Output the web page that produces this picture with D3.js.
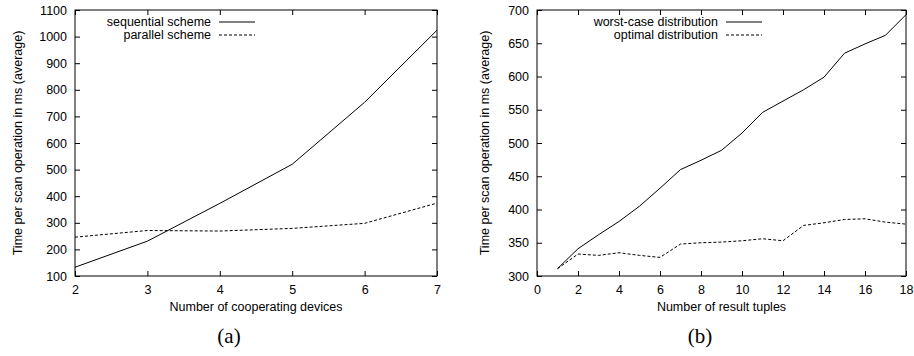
<!DOCTYPE html>
<html>
<head>
<meta charset="utf-8">
<script src="https://cdn.jsdelivr.net/npm/d3@7"></script>
<style>
  body { margin: 0; background: #fff; }
  svg text { font-family: "Liberation Sans", Arial, sans-serif; }
</style>
</head>
<body>
<div id="chart"></div>
<script>
// (a) cooperating devices
const devices = [2, 3, 4, 5, 6, 7];
const sequential = [133, 231, 373, 520, 753, 1024];
const parallel = [246, 271, 269, 279, 298, 374];

// (b) result tuples
const tuples = [1, 2, 3, 4, 5, 6, 7, 8, 9, 10, 11, 12, 13, 14, 15, 16, 17, 18];
const worstCase = [311, 341, 362, 382, 405, 432, 460, 474, 489, 515, 546, 563, 580, 599, 635, 649, 662, 693];
const optimal = [311, 333, 331, 335, 331, 328, 348, 350, 351, 353, 356, 353, 376, 380, 385, 386, 381, 378];

const svg = d3.select("#chart").append("svg")
  .attr("width", 914)
  .attr("height", 356);

function panel(opt) {
  const g = svg.append("g");
  const x = d3.scaleLinear().domain(opt.xDomain).range([opt.left, opt.right]);
  const y = d3.scaleLinear().domain(opt.yDomain).range([opt.bottom, opt.top]);
  const tl = 5;
  const fmt = d3.format("d");

  // inward ticks, mirrored like gnuplot
  g.append("g")
    .attr("transform", `translate(0,${opt.bottom})`)
    .call(d3.axisBottom(x).tickValues(opt.xTicks).tickFormat(fmt).tickSizeInner(-tl).tickSizeOuter(0).tickPadding(9))
    .call(a => a.select(".domain").remove());
  g.append("g")
    .attr("transform", `translate(0,${opt.top})`)
    .call(d3.axisTop(x).tickValues(opt.xTicks).tickSizeInner(-tl).tickSizeOuter(0).tickFormat(""))
    .call(a => a.select(".domain").remove());
  g.append("g")
    .attr("transform", `translate(${opt.left},0)`)
    .call(d3.axisLeft(y).tickValues(opt.yTicks).tickFormat(fmt).tickSizeInner(-tl).tickSizeOuter(0).tickPadding(8))
    .call(a => a.select(".domain").remove());
  g.append("g")
    .attr("transform", `translate(${opt.right},0)`)
    .call(d3.axisRight(y).tickValues(opt.yTicks).tickSizeInner(-tl).tickSizeOuter(0).tickFormat(""))
    .call(a => a.select(".domain").remove());

  g.selectAll(".tick text").attr("font-size", 12.5).attr("fill", "#000")
    .attr("font-family", "'Liberation Sans', Arial, sans-serif");
  g.selectAll(".tick line").attr("stroke", "#000");

  g.append("rect")
    .attr("x", opt.left).attr("y", opt.top)
    .attr("width", opt.right - opt.left).attr("height", opt.bottom - opt.top)
    .attr("fill", "none").attr("stroke", "#000").attr("stroke-width", 1);

  const line = d3.line().x(d => x(d[0])).y(d => y(d[1]));
  opt.series.forEach((s, i) => {
    g.append("path")
      .datum(opt.xs.map((v, j) => [v, s.values[j]]))
      .attr("d", line)
      .attr("fill", "none")
      .attr("stroke", "#000")
      .attr("stroke-width", 1)
      .attr("stroke-dasharray", s.dash);

    const ly = opt.top + 12 + i * 13;
    g.append("text")
      .attr("x", opt.legendX).attr("y", ly)
      .attr("dy", "0.35em")
      .attr("text-anchor", "end")
      .attr("font-size", 12.5)
      .text(s.name);
    g.append("line")
      .attr("x1", opt.legendX + 8).attr("x2", opt.legendX + 44)
      .attr("y1", ly).attr("y2", ly)
      .attr("stroke", "#000")
      .attr("stroke-dasharray", s.dash);
  });

  g.append("text")
    .attr("x", (opt.left + opt.right) / 2).attr("y", 311)
    .attr("text-anchor", "middle")
    .attr("font-size", 12.5)
    .text(opt.xLabel);

  g.append("text")
    .attr("transform", `translate(${opt.yLabelX},${(opt.top + opt.bottom) / 2}) rotate(-90)`)
    .attr("text-anchor", "middle")
    .attr("font-size", 12.5)
    .text("Time per scan operation in ms (average)");

  g.append("text")
    .attr("x", opt.captionX).attr("y", 343)
    .attr("text-anchor", "middle")
    .attr("font-size", 21)
    .style("font-family", "'Liberation Serif', 'Times New Roman', serif")
    .text(opt.caption);
}

panel({
  left: 75, right: 437, top: 10, bottom: 276,
  xDomain: [2, 7], yDomain: [100, 1100],
  xTicks: devices, yTicks: d3.range(100, 1101, 100),
  xs: devices,
  series: [
    { name: "sequential scheme", values: sequential, dash: null },
    { name: "parallel scheme", values: parallel, dash: "3,2" }
  ],
  legendX: 211,
  xLabel: "Number of cooperating devices",
  yLabelX: 22,
  caption: "(a)", captionX: 229
});

panel({
  left: 537, right: 906, top: 10, bottom: 276,
  xDomain: [0, 18], yDomain: [300, 700],
  xTicks: d3.range(0, 19, 2), yTicks: d3.range(300, 701, 50),
  xs: tuples,
  series: [
    { name: "worst-case distribution", values: worstCase, dash: null },
    { name: "optimal distribution", values: optimal, dash: "3,2" }
  ],
  legendX: 718,
  xLabel: "Number of result tuples",
  yLabelX: 489,
  caption: "(b)", captionX: 700
});
</script>
</body>
</html>
